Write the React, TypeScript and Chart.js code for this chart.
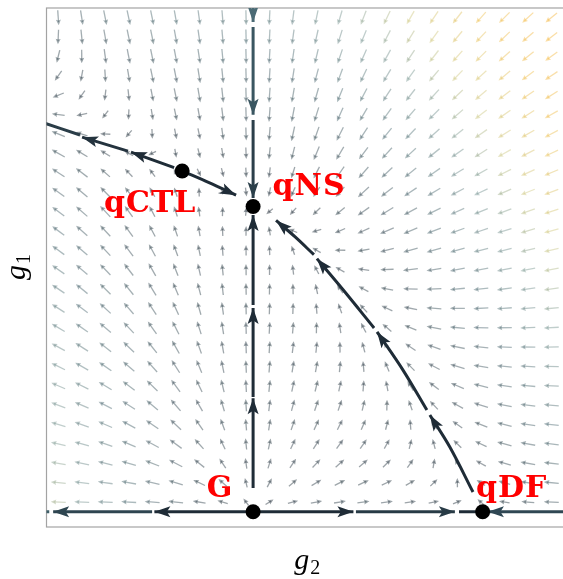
import React, { useEffect, useRef } from "react";
import { Chart, registerables } from "chart.js";

Chart.register(...registerables);

// ---------- axes ----------
const G2_MIN = -0.9;
const G2_MAX = 1.35;
const G1_MIN = -0.05;
const G1_MAX = 1.65;
const X_TITLE = "g";
const X_SUB = "2";
const Y_TITLE = "g";
const Y_SUB = "1";

// ---------- fixed points (g2, g1) ----------
const fixedNames = ["G", "qDF", "qNS", "qCTL"];
const fixedG2 = [0, 1, 0, -0.309];
const fixedG1 = [0, 0, 1, 1.116];
// label offsets in pixels (layout only)
const labelDX = [-33, 29, 56, -32];
const labelDY = [-15, -15, -11, 41];

// ---------- highlighted stream segments: [g2, g1] ----------
const streamSegments: number[][][] = [
  // g1 = 0 axis
  [[0, 0], [-0.43, 0]],
  [[-0.44, 0], [-0.871, 0]],
  [[-0.888, 0], [-0.95, 0]],
  [[0, 0], [0.437, 0]],
  [[0.448, 0], [0.879, 0]],
  [[0.897, 0], [1.0, 0]],
  [[1.4, 0], [1.023, 0]],
  // g2 = 0 axis, above qNS
  [[0, 1.75], [0, 1.604]],
  [[0, 1.588], [0, 1.3]],
  [[0, 1.283], [0, 1.028]],
  // g2 = 0 axis, G -> qNS
  [[0, 0.078], [0, 0.372]],
  [[0, 0.376], [0, 0.667]],
  [[0, 0.677], [0, 0.972]],
  // qDF -> qNS
  [[0.958, 0.0645], [0.857, 0.212], [0.77, 0.317]],
  [[0.757, 0.333], [0.653, 0.464], [0.54, 0.589]],
  [[0.527, 0.602], [0.392, 0.727], [0.278, 0.829]],
  [[0.265, 0.842], [0.182, 0.901], [0.1, 0.954]],
  // qCTL -> qNS
  [[-0.309, 1.116], [-0.192, 1.078], [-0.074, 1.037]],
  // qCTL -> left
  [[-0.344, 1.127], [-0.532, 1.178]],
  [[-0.545, 1.181], [-0.745, 1.227]],
  [[-0.754, 1.234], [-0.92, 1.276]],
];
const streamArrow = [
  true, true, false, true, true, false, true,
  true, true, true,
  true, true, true,
  true, true, true, true,
  true,
  true, true, false,
];
const streamColors = [
  "#1f2c37", "#2e4550", "#3f5f69", "#1f2c37", "#283b46", "#1f2c37", "#2f4753",
  "#4b6b75", "#3a5661", "#2b3f4a",
  "#1f2c37", "#1f2c37", "#1f2c37",
  "#1f2c37", "#1f2c37", "#1f2c37", "#1f2c37",
  "#1f2c37",
  "#1f2c37", "#24333e", "#2a3d48",
];

// ---------- background flow field ----------
const FIELD_COLS = 22;
const FIELD_ROWS = 26;
const FIELD_G1_MIN = 0;
const FIELD_G1_MAX = 1.65;
// colour by flow speed
const speedStops = [0, 0.8, 1.35, 1.75, 2.5, 3.3];
const speedColors = [
  [29, 42, 53],
  [70, 100, 108],
  [120, 150, 145],
  [205, 200, 130],
  [238, 190, 75],
  [245, 180, 55],
];

// beta functions with zeros at the fixed points above
const xDF = fixedG2[1];
const yNS = fixedG1[2];
const xC = fixedG2[3];
const yC = fixedG1[3];
const A = (xC / xDF - 1) / yC;
const B = (yC / yNS - 1) / xC;
function beta(g2: number, g1: number): [number, number] {
  return [g2 * (1 - g2 / xDF + A * g1), g1 * (1 - g1 / yNS + B * g2)];
}

function speedColor(m: number, alpha: number) {
  let i = 0;
  while (i < speedStops.length - 2 && m > speedStops[i + 1]) i++;
  const t = Math.max(0, Math.min(1, (m - speedStops[i]) / (speedStops[i + 1] - speedStops[i])));
  const c = speedColors[i].map((v, k) => Math.round(v + (speedColors[i + 1][k] - v) * t));
  return `rgba(${c[0]},${c[1]},${c[2]},${alpha})`;
}

function drawHead(ctx: CanvasRenderingContext2D, tx: number, ty: number, ux: number, uy: number, L: number, W: number, notch: number, color: string) {
  const nx = -uy;
  const ny = ux;
  ctx.beginPath();
  ctx.moveTo(tx, ty);
  ctx.lineTo(tx - L * ux + W * nx, ty - L * uy + W * ny);
  ctx.lineTo(tx - (L - notch) * ux, ty - (L - notch) * uy);
  ctx.lineTo(tx - L * ux - W * nx, ty - L * uy - W * ny);
  ctx.closePath();
  ctx.fillStyle = color;
  ctx.fill();
}

const flowPlugin = {
  id: "flow",
  beforeDatasetsDraw(chart: any) {
    const { ctx, chartArea: ca, scales } = chart;
    const xs = scales.x;
    const ys = scales.y;
    const pxPerX = xs.getPixelForValue(1) - xs.getPixelForValue(0);
    const pxPerY = ys.getPixelForValue(0) - ys.getPixelForValue(1);
    ctx.save();
    ctx.beginPath();
    ctx.rect(ca.left, ca.top, ca.right - ca.left, ca.bottom - ca.top);
    ctx.clip();
    for (let j = 0; j < FIELD_ROWS; j++) {
      const g1 = FIELD_G1_MIN + ((j + 0.5) * (FIELD_G1_MAX - FIELD_G1_MIN)) / FIELD_ROWS;
      for (let i = 0; i < FIELD_COLS; i++) {
        const g2 = G2_MIN + ((i + 0.5) * (G2_MAX - G2_MIN)) / FIELD_COLS;
        const [b2, b1] = beta(g2, g1);
        const m = Math.hypot(b2, b1);
        let vx = b2 * pxPerX;
        let vy = -b1 * pxPerY;
        const vl = Math.hypot(vx, vy);
        if (vl < 1e-9) continue;
        vx /= vl;
        vy /= vl;
        const len = 15 * (0.55 + 0.45 * Math.min(1, m / 0.4));
        const cx = xs.getPixelForValue(g2);
        const cy = ys.getPixelForValue(g1);
        const col = speedColor(m, 0.45);
        const hx = cx + (vx * len) / 2;
        const hy = cy + (vy * len) / 2;
        ctx.beginPath();
        ctx.moveTo(cx - (vx * len) / 2, cy - (vy * len) / 2);
        ctx.lineTo(hx - vx * 3, hy - vy * 3);
        ctx.strokeStyle = col;
        ctx.lineWidth = 1.3;
        ctx.stroke();
        drawHead(ctx, hx, hy, vx, vy, 5.5, 2.5, 0.8, col);
      }
    }
    ctx.restore();
    // frame
    ctx.save();
    ctx.strokeStyle = "#a3a3a3";
    ctx.lineWidth = 1.2;
    ctx.strokeRect(ca.left, ca.top, ca.right - ca.left + 5, ca.bottom - ca.top);
    ctx.restore();
  },
  afterDatasetDraw(chart: any, args: any) {
    const k = args.index - 1;
    if (k < 0 || !streamArrow[k]) return;
    const seg = streamSegments[k];
    const { ctx, chartArea: ca, scales } = chart;
    const p = seg[seg.length - 1];
    const q = seg[seg.length - 2];
    const tx = scales.x.getPixelForValue(p[0]);
    const ty = scales.y.getPixelForValue(p[1]);
    const qx = scales.x.getPixelForValue(q[0]);
    const qy = scales.y.getPixelForValue(q[1]);
    const d = Math.hypot(tx - qx, ty - qy);
    ctx.save();
    ctx.beginPath();
    ctx.rect(ca.left, ca.top, ca.right - ca.left, ca.bottom - ca.top);
    ctx.clip();
    drawHead(ctx, tx, ty, (tx - qx) / d, (ty - qy) / d, 16, 5.5, 3.5, streamColors[k]);
    ctx.restore();
  },
  afterDraw(chart: any) {
    const { ctx, scales } = chart;
    ctx.save();
    ctx.fillStyle = "#ff0000";
    ctx.font = "bold 30px 'DejaVu Serif'";
    (ctx as any).letterSpacing = "1px";
    ctx.textAlign = "center";
    ctx.textBaseline = "alphabetic";
    fixedNames.forEach((n, i) => {
      const x = scales.x.getPixelForValue(fixedG2[i]) + labelDX[i];
      const y = scales.y.getPixelForValue(fixedG1[i]) + labelDY[i];
      ctx.fillText(n, x, y);
    });
    (ctx as any).letterSpacing = "0px";
    // axis titles
    ctx.fillStyle = "#000";
    ctx.textAlign = "left";
    const ca = chart.chartArea;
    const midX = (ca.left + ca.right) / 2;
    ctx.font = "italic 30px 'Liberation Serif'";
    const gw = ctx.measureText(X_TITLE).width;
    ctx.font = "20px 'Liberation Serif'";
    const sw = ctx.measureText(X_SUB).width;
    const startX = midX - (gw + sw) / 2 + 2;
    ctx.font = "italic 30px 'Liberation Serif'";
    ctx.fillText(X_TITLE, startX, 569);
    ctx.font = "20px 'Liberation Serif'";
    ctx.fillText(X_SUB, startX + gw + 1, 574);
    // y title rotated
    const midY = (ca.top + ca.bottom) / 2;
    ctx.translate(25, midY);
    ctx.rotate(-Math.PI / 2);
    ctx.font = "italic 30px 'Liberation Serif'";
    const gw2 = ctx.measureText(Y_TITLE).width;
    ctx.font = "20px 'Liberation Serif'";
    const sw2 = ctx.measureText(Y_SUB).width;
    const sx = -(gw2 + sw2) / 2;
    ctx.font = "italic 30px 'Liberation Serif'";
    ctx.fillText(Y_TITLE, sx, 0);
    ctx.font = "20px 'Liberation Serif'";
    ctx.fillText(Y_SUB, sx + gw2 + 1, 5);
    ctx.restore();
  },
};

export default function App() {
  const ref = useRef<HTMLCanvasElement | null>(null);
  useEffect(() => {
    document.body.style.margin = "0";
    const canvas = ref.current;
    if (!canvas) return;
    const datasets: any[] = [
      {
        type: "scatter",
        label: "fixed points",
        data: fixedG2.map((x, i) => ({ x, y: fixedG1[i] })),
        pointRadius: 7.5,
        pointHoverRadius: 7.5,
        backgroundColor: "#000",
        borderWidth: 0,
        order: 0,
      },
      ...streamSegments.map((seg, i) => ({
        type: "scatter",
        label: "stream " + i,
        data: seg.map(([x, y]) => ({ x, y })),
        showLine: true,
        pointRadius: 0,
        pointHoverRadius: 0,
        borderColor: streamColors[i],
        backgroundColor: streamColors[i],
        borderWidth: 3,
        tension: 0.35,
        clip: 0,
        order: 1,
      })),
    ];
    const chart = new Chart(canvas, {
      type: "scatter",
      data: { datasets },
      options: {
        animation: false,
        responsive: false,
        maintainAspectRatio: false,
        events: [],
        layout: { autoPadding: false, padding: { left: 46.5, top: 8, right: 0, bottom: 52 } },
        scales: {
          x: { type: "linear", min: G2_MIN, max: G2_MAX, display: false },
          y: { type: "linear", min: G1_MIN, max: G1_MAX, display: false },
        },
        plugins: { legend: { display: false }, tooltip: { enabled: false } },
      },
      plugins: [flowPlugin],
    } as any);
    return () => chart.destroy();
  }, []);
  return (
    <div style={{ position: "absolute", left: 0, top: 0, width: 563, height: 579, background: "#fff" }}>
      <canvas ref={ref} width={563} height={579} style={{ width: 563, height: 579, display: "block" }} />
    </div>
  );
}
